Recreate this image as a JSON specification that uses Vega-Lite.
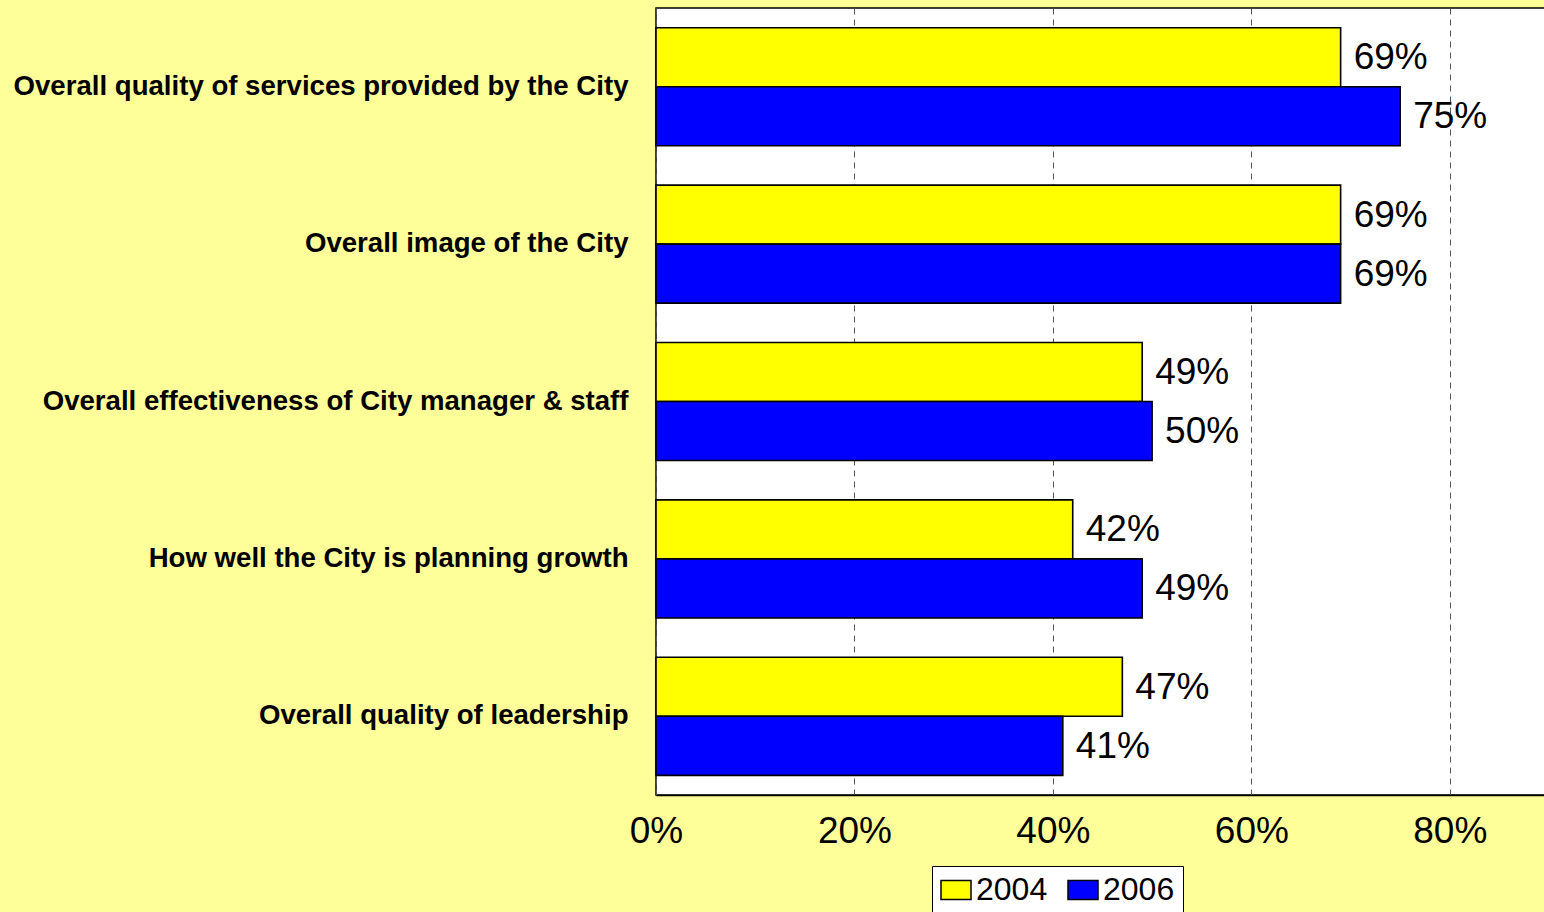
{
  "$schema": "https://vega.github.io/schema/vega-lite/v6.json",
  "width": 893,
  "height": 787,
  "autosize": {"type": "none"},
  "padding": {"left": 656, "top": 8, "right": 0, "bottom": 117},
  "background": "#FFFF99",
  "config": {
    "font": "Liberation Sans",
    "view": {"fill": "#FFFFFF", "stroke": "#000000", "strokeWidth": 1.5}
  },
  "data": {
    "values": [
      {"item": "Overall quality of services provided by the City", "year": "2004", "value": 0.69},
      {"item": "Overall quality of services provided by the City", "year": "2006", "value": 0.75},
      {"item": "Overall image of the City", "year": "2004", "value": 0.69},
      {"item": "Overall image of the City", "year": "2006", "value": 0.69},
      {"item": "Overall effectiveness of City manager & staff", "year": "2004", "value": 0.49},
      {"item": "Overall effectiveness of City manager & staff", "year": "2006", "value": 0.50},
      {"item": "How well the City is planning growth", "year": "2004", "value": 0.42},
      {"item": "How well the City is planning growth", "year": "2006", "value": 0.49},
      {"item": "Overall quality of leadership", "year": "2004", "value": 0.47},
      {"item": "Overall quality of leadership", "year": "2006", "value": 0.41}
    ]
  },
  "encoding": {
    "y": {
      "field": "item",
      "type": "nominal",
      "sort": null,
      "title": null,
      "scale": {"paddingInner": 0.25, "paddingOuter": 0.125},
      "axis": {
        "ticks": false,
        "domain": false,
        "labelFont": "Liberation Sans",
        "labelFontWeight": "bold",
        "labelFontSize": 27.6,
        "labelColor": "#000000",
        "labelPadding": 28,
        "labelLimit": 700
      }
    },
    "yOffset": {
      "field": "year",
      "type": "nominal",
      "sort": ["2004", "2006"],
      "scale": {"paddingInner": 0, "paddingOuter": 0}
    },
    "x": {
      "field": "value",
      "type": "quantitative",
      "title": null,
      "scale": {"domain": [0, 0.9], "nice": false},
      "axis": {
        "values": [0, 0.2, 0.4, 0.6, 0.8],
        "format": ".0%",
        "ticks": false,
        "labelFlush": false,
        "labelOverlap": false,
        "domainColor": "#000000",
        "domainWidth": 1.5,
        "labelFontSize": 37,
        "labelColor": "#000000",
        "labelPadding": 18,
        "grid": true,
        "gridColor": "#555555",
        "gridDash": [6, 5],
        "gridWidth": 1
      }
    }
  },
  "layer": [
    {
      "mark": {"type": "bar", "stroke": "#000000", "strokeWidth": 1.6},
      "encoding": {
        "color": {
          "field": "year",
          "type": "nominal",
          "scale": {"domain": ["2004", "2006"], "range": ["#FFFF00", "#0000FF"]},
          "legend": {
            "title": null,
            "orient": "none",
            "legendX": 276,
            "legendY": 858,
            "direction": "horizontal",
            "padding": 8,
            "fillColor": "#FFFFFF",
            "strokeColor": "#000000",
            "symbolType": "M-1,-0.63L1,-0.63L1,0.63L-1,0.63Z",
            "symbolSize": 900,
            "symbolStrokeColor": "#000000",
            "symbolStrokeWidth": 1.5,
            "symbolOpacity": 1,
            "labelFontSize": 32,
            "labelColor": "#000000",
            "labelOffset": 4,
            "columnPadding": 17,
            "labelExpr": "datum.label == '2006' ? '2006\u00a0\u00a0\u00a0\u00a0\u00a0\u00a0\u00a0' : datum.label"
          }
        }
      }
    },
    {
      "mark": {"type": "text", "align": "left", "baseline": "middle", "dx": 13, "dy": 1, "fontSize": 37, "color": "#000000"},
      "encoding": {
        "text": {"field": "value", "type": "quantitative", "format": ".0%"}
      }
    }
  ]
}
